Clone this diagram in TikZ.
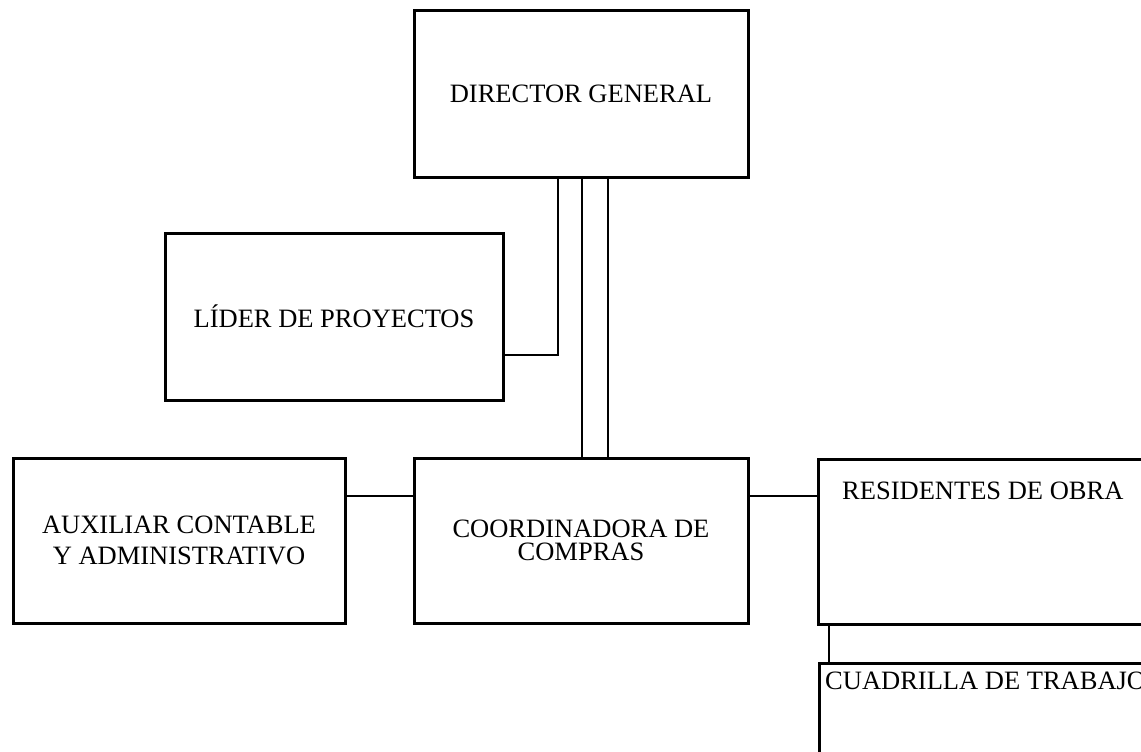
\documentclass[tikz,border=0pt]{standalone}
\usepackage{fontspec}
\setmainfont{Liberation Serif}
\begin{document}
\begin{tikzpicture}[x=1pt,y=-1pt,
  orgbox/.style={draw=black, line width=3pt, fill=white, rectangle, inner sep=0pt,
                 align=center, font=\fontsize{26.5}{31}\selectfont},
  link/.style={draw=black, line width=2pt},
  thinlink/.style={draw=black, line width=1.6pt},
  boxtext/.style={inner sep=0pt, font=\fontsize{26.5}{31}\selectfont}]
\clip (0,0) rectangle (1141,752);
\fill[white] (0,0) rectangle (1141,752);

% boxes
\node[orgbox, minimum width=334pt, minimum height=166pt] (dir) at (581,94) {DIRECTOR GENERAL};
\node[orgbox, minimum width=338pt, minimum height=167pt] (lid) at (334,316.5) {LÍDER DE PROYECTOS};
\node[orgbox, minimum width=332pt, minimum height=165pt] (aux) at (179,540.5) {AUXILIAR CONTABLE\\Y ADMINISTRATIVO};
\node[orgbox, minimum width=334pt, minimum height=165pt, font=\fontsize{26.5}{23.5}\selectfont] (coord) at (581,540.5)
  {COORDINADORA DE\\COMPRAS};
\node[orgbox, minimum width=360pt, minimum height=165pt, anchor=north west] (res) at (817,458) {};
\node[orgbox, minimum width=360pt, minimum height=140pt, anchor=north west] (cuad) at (818,662) {};

% titles set at the top of the open boxes
\node[boxtext, anchor=base west] (resT) at ([xshift=25pt,yshift=-41pt]res.north west) {RESIDENTES DE OBRA};
\node[boxtext, anchor=base west] (cuadT) at ([xshift=7pt,yshift=-27pt]cuad.north west) {CUADRILLA DE TRABAJO};

% connector heights
\coordinate (rowlink) at ([yshift=44.5pt]coord.west);

% connectors
\draw[thinlink] ([xshift=-23pt]dir.south) |- ([yshift=-38.5pt]lid.east);
\draw[link] ([xshift=1pt]dir.south) -- ([xshift=1pt]coord.north);
\draw[link] ([xshift=27pt]dir.south) -- ([xshift=27pt]coord.north);
\draw[link] (rowlink -| aux.east) -- (rowlink);
\draw[link] (rowlink -| coord.east) -- (rowlink -| res.west);
\draw[link] ([xshift=12pt]res.south west) -- ([xshift=11pt]cuad.north west);
\end{tikzpicture}
\end{document}
